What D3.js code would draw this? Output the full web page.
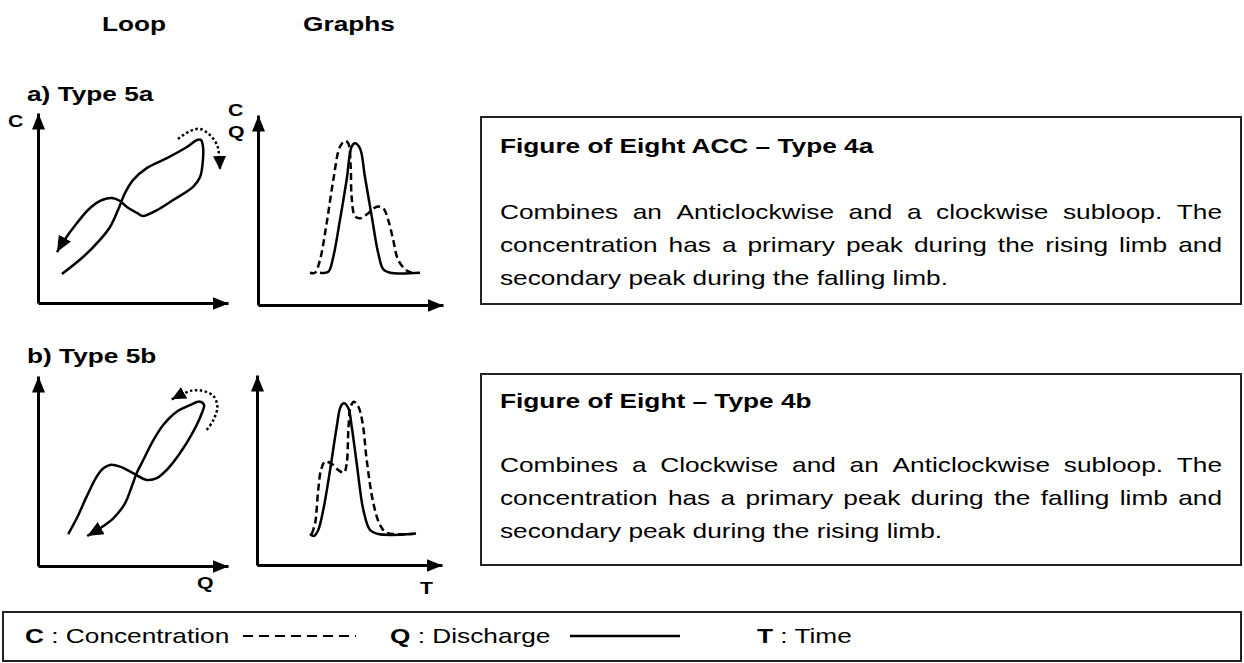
<!DOCTYPE html>
<html>
<head>
<meta charset="utf-8">
<script src="https://cdn.jsdelivr.net/npm/d3@7"></script>
<style>
  body { margin: 0; background: #fff; }
  svg { display: block; }
  text { font-family: "Liberation Sans", Arial, sans-serif; fill: #000; }
</style>
</head>
<body>
<svg id="fig" width="1244" height="663"></svg>
<script>
// ---- Hysteresis loop shapes (Q on x, C on y, 0-100 schematic units) ----
const loopA = [[12.6,15.3],[23.7,24.2],[32.6,33.2],[37.9,40.0],[42.1,48.9],[45.8,57.9],[50.0,64.7],
  [57.4,71.1],[67.9,76.3],[78.4,82.1],[83.7,85.8],[85.8,85.8],[86.8,82.6],[86.8,75.3],[85.3,66.3],
  [81.6,61.1],[71.1,54.2],[62.6,48.9],[55.3,45.8],[52.1,47.4],[46.8,50.5],[43.2,53.7],[38.9,55.3],
  [33.7,54.2],[27.4,50.0],[20.5,42.1],[13.2,32.1],[10.0,26.8]];
const turnA = [[73.7,86.3],[80.0,90.5],[85.3,91.6],[90.5,88.4],[94.2,83.2],[95.3,77.9],[95.8,70.0]];

const loopB = [[15.9,16.8],[20.4,25.1],[25.6,36.5],[30.9,47.0],[34.4,51.4],[37.9,53.2],[43.2,52.3],
  [50.2,48.8],[57.2,45.3],[62.5,46.2],[67.7,50.5],[74.7,59.3],[81.7,70.7],[86.2,80.4],[87.4,84.7],
  [85.3,86.5],[80.0,84.7],[73.0,81.2],[65.9,74.2],[59.8,64.6],[55.4,55.8],[51.9,48.8],[49.3,41.7],
  [45.8,33.0],[39.6,25.1],[32.6,19.8],[25.9,15.8]];
const turnB = [[88.8,71.6],[92.3,76.8],[94.4,83.8],[92.3,89.5],[87.0,92.1],[80.9,92.3],[70.4,87.7]];

// ---- Time series (T on x, 0-100 schematic units) ----
const qA = [[33.5,17],[38,17.5],[40.7,25.4],[44.3,44.7],[47.9,65.8],[50.6,83.3],[52.4,85.1],[55.1,82.5],
  [57.8,67.5],[61.5,46.5],[65,27.2],[67.7,18.8],[71.4,17],[87.6,17]];
const cA = [[28.1,17],[30.8,17],[33.5,23.7],[37.1,43],[40.7,65.8],[44.3,83.3],[47,86.3],[48.8,85.1],
  [50.1,72.8],[50.6,57],[52.4,46.8],[55.1,45.6],[59.6,48.3],[64.2,51.7],[67.7,50.9],[70.4,44.7],
  [73.1,34.2],[75.8,23.7],[80.4,18.1],[83.1,17]];
const qB = [[28.6,16.3],[30.8,15.3],[33.1,18.4],[35.8,28.9],[39.5,50],[43.1,72.8],[45.2,83.3],[47,85.1],
  [49.4,82.5],[51.2,72.8],[53.9,53.5],[57.5,28.9],[61.1,18.4],[65.6,16.3],[84.5,16.3]];
const cB = [[29.6,16.3],[31.4,21.9],[33.1,39.5],[34.6,50],[36.8,54.4],[40.4,53.2],[43.9,50],[47,48.6],
  [48.5,53.5],[49.4,71.1],[50.6,83.3],[52.4,85.9],[54.8,83.3],[57.1,74.6],[59.3,55.3],[62.9,32.5],
  [66.5,21.1],[70.1,17],[88.1,16.7]];

// ---- Texts ----
const columnHeads = ["Loop", "Graphs"];
const rowLabels = ["a) Type 5a", "b) Type 5b"];
const boxTitles = ["Figure of Eight ACC \u2013 Type 4a", "Figure of Eight \u2013 Type 4b"];
const descA = [
  "Combines an Anticlockwise and a clockwise subloop. The",
  "concentration has a primary peak during the rising limb and",
  "secondary peak during the falling limb."
];
const descB = [
  "Combines a Clockwise and an Anticlockwise subloop. The",
  "concentration has a primary peak during the falling limb and",
  "secondary peak during the rising limb."
];
const legendItems = [
  { key: "C", label: " : Concentration", style: "dashed" },
  { key: "Q", label: " : Discharge", style: "solid" },
  { key: "T", label: " : Time", style: "none" }
];

// ---- Drawing ----
const SX = 1.25;           // horizontal stretch of the lettering
const FS = 21;             // main font size
const svg = d3.select("#fig");

const defs = svg.append("defs");
function arrowMarker(id, len, wid) {
  defs.append("marker")
    .attr("id", id)
    .attr("markerUnits", "userSpaceOnUse")
    .attr("viewBox", `0 0 ${len} ${wid}`)
    .attr("markerWidth", len).attr("markerHeight", wid)
    .attr("refX", len).attr("refY", wid / 2)
    .attr("orient", "auto")
    .append("path")
    .attr("d", `M0,0L${len},${wid / 2}L0,${wid}Z`)
    .attr("fill", "#000");
}
arrowMarker("axisHead", 16, 13);
arrowMarker("loopHead", 16, 14);
arrowMarker("turnHead", 14, 13);

function label(g, x, y, str, size, weight, anchor) {
  return g.append("text")
    .attr("transform", `translate(${x},${y}) scale(${SX},1)`)
    .attr("text-anchor", anchor || "start")
    .style("font-size", size + "px")
    .style("font-weight", weight || "normal")
    .text(str);
}

function panel(xr, yr) {
  const x = d3.scaleLinear().domain([0, 100]).range(xr);
  const y = d3.scaleLinear().domain([0, 100]).range(yr);
  const g = svg.append("g");
  const ax = g.append("g").attr("transform", `translate(0,${yr[0]})`)
    .call(d3.axisBottom(x).ticks(0).tickSizeOuter(0));
  const ay = g.append("g").attr("transform", `translate(${xr[0]},0)`)
    .call(d3.axisLeft(y).ticks(0).tickSizeOuter(0));
  [ax, ay].forEach(a => a.select(".domain")
    .attr("stroke", "#000").attr("stroke-width", 3)
    .attr("marker-end", "url(#axisHead)"));
  const line = d3.line().x(d => x(d[0])).y(d => y(d[1])).curve(d3.curveCatmullRom.alpha(0.5));
  return { g, x, y, line };
}

function curve(p, data, opts) {
  p.g.append("path")
    .attr("d", p.line(data))
    .attr("fill", "none")
    .attr("stroke", "#000")
    .attr("stroke-width", opts.width || 2.5)
    .attr("stroke-dasharray", opts.dash || null)
    .attr("stroke-linejoin", "round")
    .attr("marker-end", opts.head ? `url(#${opts.head})` : null);
}

// Column headings
const heads = svg.append("g");
label(heads, 102, 31, columnHeads[0], FS, "bold");
label(heads, 303, 31, columnHeads[1], FS, "bold");

// Row a
label(heads, 27, 101, rowLabels[0], FS, "bold");
const la = panel([38, 228], [303, 113]);
curve(la, loopA, { head: "loopHead" });
curve(la, turnA, { dash: "2.5,2.5", head: "turnHead" });
label(la.g, 8, 127, "C", 17, "bold");

const ga = panel([258, 443], [305, 115]);
curve(ga, qA, {});
curve(ga, cA, { dash: "7,4" });
label(ga.g, 228, 116, "C", 17, "bold");
label(ga.g, 228, 138, "Q", 17, "bold");

// Row b
label(heads, 27, 363, rowLabels[1], FS, "bold");
const lb = panel([38, 228], [566, 376]);
curve(lb, loopB, { head: "loopHead" });
curve(lb, turnB, { dash: "2.5,2.5", head: "turnHead" });
label(lb.g, 197, 589, "Q", 17, "bold");

const gb = panel([257, 442], [565, 375]);
curve(gb, qB, {});
curve(gb, cB, { dash: "7,4" });
label(gb.g, 420, 594, "T", 17, "bold");

// Description boxes with justified paragraphs
function descBox(y0, y1, title, lines, titleY, firstY) {
  const g = svg.append("g");
  g.append("rect").attr("x", 481).attr("y", y0).attr("width", 760).attr("height", y1 - y0)
    .attr("fill", "none").attr("stroke", "#222").attr("stroke-width", 2);
  label(g, 500, titleY, title, FS, "bold");
  const W = (1222 - 500) / SX;
  lines.forEach((ln, i) => {
    const t = g.append("text")
      .attr("transform", `translate(500,${firstY + i * 33}) scale(${SX},1)`)
      .style("font-size", FS + "px");
    const words = ln.split(" ");
    const spans = words.map(w => t.append("tspan").text(w));
    const widths = spans.map(s => s.node().getComputedTextLength());
    const last = i === lines.length - 1;
    const gap = last ? 0.278 * FS : (W - d3.sum(widths)) / (words.length - 1);
    let cx = 0;
    spans.forEach((s, j) => { s.attr("x", cx); cx += widths[j] + gap; });
  });
}
descBox(117, 304, boxTitles[0], descA, 153, 219);
descBox(374, 565, boxTitles[1], descB, 408, 472);

// Legend
const lg = svg.append("g");
lg.append("rect").attr("x", 3).attr("y", 612).attr("width", 1238).attr("height", 49)
  .attr("fill", "none").attr("stroke", "#222").attr("stroke-width", 2);
const legendX = [25, 390, 757];
const legendLine = [[243, 356], [570, 680]];
legendItems.forEach((it, i) => {
  const t = lg.append("text")
    .attr("transform", `translate(${legendX[i]},643) scale(${SX},1)`)
    .style("font-size", FS + "px");
  t.append("tspan").style("font-weight", "bold").text(it.key);
  t.append("tspan").text(it.label);
  if (it.style !== "none") {
    const seg = legendLine[i];
    lg.append("line").attr("x1", seg[0]).attr("x2", seg[1]).attr("y1", 636).attr("y2", 636)
      .attr("stroke", "#000").attr("stroke-width", it.style === "solid" ? 2.5 : 2)
      .attr("stroke-dasharray", it.style === "dashed" ? "10,6" : null);
  }
});
</script>
</body>
</html>
